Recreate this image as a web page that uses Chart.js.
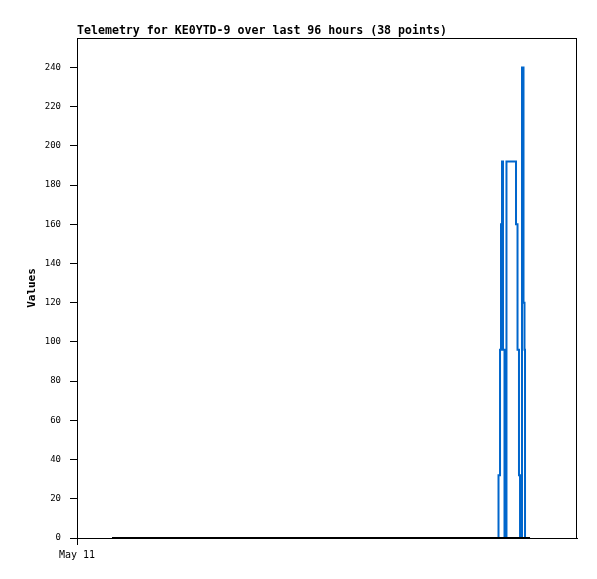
<!DOCTYPE html>
<html>
<head>
<meta charset="utf-8">
<title>Telemetry KE0YTD-9</title>
<script src="https://cdn.jsdelivr.net/npm/chart.js@4.4.0/dist/chart.umd.min.js"></script>
<style>
  body { margin: 0; background: #fff; }
  canvas { display: block; }
</style>
</head>
<body>
<canvas id="telemetryChart" width="597" height="579"></canvas>
<script>
// sample times, hours after May 11 00:00 (38 points)
var sampleHours = [6.72, 10.4, 13.9, 18.6, 22.1, 27.3, 31.8, 35.0, 40.2, 44.7,
    48.1, 53.5, 57.0, 61.9, 66.4, 70.2, 74.8, 77.5, 79.3, 80.1,
    80.6, 80.93, 81.22, 81.41, 81.60, 81.79, 82.08, 82.46, 84.29, 84.58,
    84.86, 85.06, 85.44, 85.73, 85.92, 86.02, 86.40, 86.98];
// channel values at each sample
var channelA = [0, 0, 0, 0, 0, 0, 0, 0, 0, 0,
    0, 0, 0, 0, 0, 0, 0, 0, 0, 0,
    0, 32, 96, 160, 192, 96, 0, 192, 160, 96,
    32, 0, 240, 120, 96, 0, 0, 0];
var channelB = [0, 0, 0, 0, 0, 0, 0, 0, 0, 0,
    0, 0, 0, 0, 0, 0, 0, 0, 0, 0,
    0, 0, 0, 0, 0, 0, 0, 0, 0, 0,
    0, 0, 0, 0, 0, 0, 0, 0];
var yTicks = [0, 20, 40, 60, 80, 100, 120, 140, 160, 180, 200, 220, 240];
var xTicks = [0];
var xTickLabels = ['May 11'];
var chartTitle = 'Telemetry for KE0YTD-9 over last 96 hours (38 points)';

function points(vals) {
    return vals.map(function(v, i) { return { x: sampleHours[i], y: v }; });
}

// title at plot left + frame around the plot area
var framePlugin = {
    id: 'frame',
    afterDraw: function(chart) {
        var ctx = chart.ctx, a = chart.chartArea;
        ctx.save();
        ctx.strokeStyle = '#000';
        ctx.lineWidth = 1;
        ctx.strokeRect(a.left + 0.5, a.top + 0.5, a.right - a.left - 1, a.bottom - a.top);
        ctx.fillStyle = '#000';
        ctx.font = 'bold 11.6px "DejaVu Sans Mono"';
        ctx.textAlign = 'left';
        ctx.textBaseline = 'alphabetic';
        ctx.fillText(chartTitle, a.left, 34);
        ctx.restore();
    }
};

var ctx = document.getElementById('telemetryChart').getContext('2d');
var telemetryChart = new Chart(ctx, {
    type: 'line',
    data: {
        datasets: [{
            label: 'B',
            data: points(channelB),
            borderColor: '#000000',
            borderWidth: 2,
            pointRadius: 0,
            stepped: true
        }, {
            label: 'A',
            data: points(channelA),
            borderColor: '#0066cc',
            borderWidth: 2,
            pointRadius: 0,
            stepped: true
        }]
    },
    options: {
        responsive: false,
        animation: false,
        layout: { padding: { left: 0, top: 38, right: 20, bottom: 0 } },
        plugins: {
            legend: { display: false },
            tooltip: { enabled: false },
            title: { display: false }
        },
        scales: {
            x: {
                type: 'linear',
                min: 0,
                max: 96,
                afterBuildTicks: function(scale) {
                    scale.ticks = xTicks.map(function(v) { return { value: v }; });
                },
                afterFit: function(scale) { scale.height = 41; },
                grid: { drawOnChartArea: false, color: '#000', tickLength: 7 },
                border: { color: '#000', width: 1 },
                ticks: {
                    color: '#000',
                    padding: 4,
                    maxRotation: 0,
                    font: { family: '"DejaVu Sans Mono"', size: 10 },
                    callback: function(v) {
                        var i = xTicks.indexOf(v);
                        return i >= 0 ? xTickLabels[i] : '';
                    }
                }
            },
            y: {
                min: 0,
                max: 255,
                afterBuildTicks: function(scale) {
                    scale.ticks = yTicks.map(function(v) { return { value: v }; });
                },
                afterFit: function(scale) { scale.width = 77; },
                grid: { drawOnChartArea: false, color: '#000', tickLength: 7 },
                border: { color: '#000', width: 1 },
                ticks: {
                    color: '#000',
                    padding: 9,
                    font: { family: '"DejaVu Sans Mono"', size: 9 }
                },
                title: {
                    display: true,
                    text: 'Values',
                    color: '#000',
                    font: { family: '"DejaVu Sans Mono"', size: 11, weight: 'bold' },
                    padding: { top: 26, bottom: 0 }
                }
            }
        }
    },
    plugins: [framePlugin]
});
</script>
</body>
</html>
